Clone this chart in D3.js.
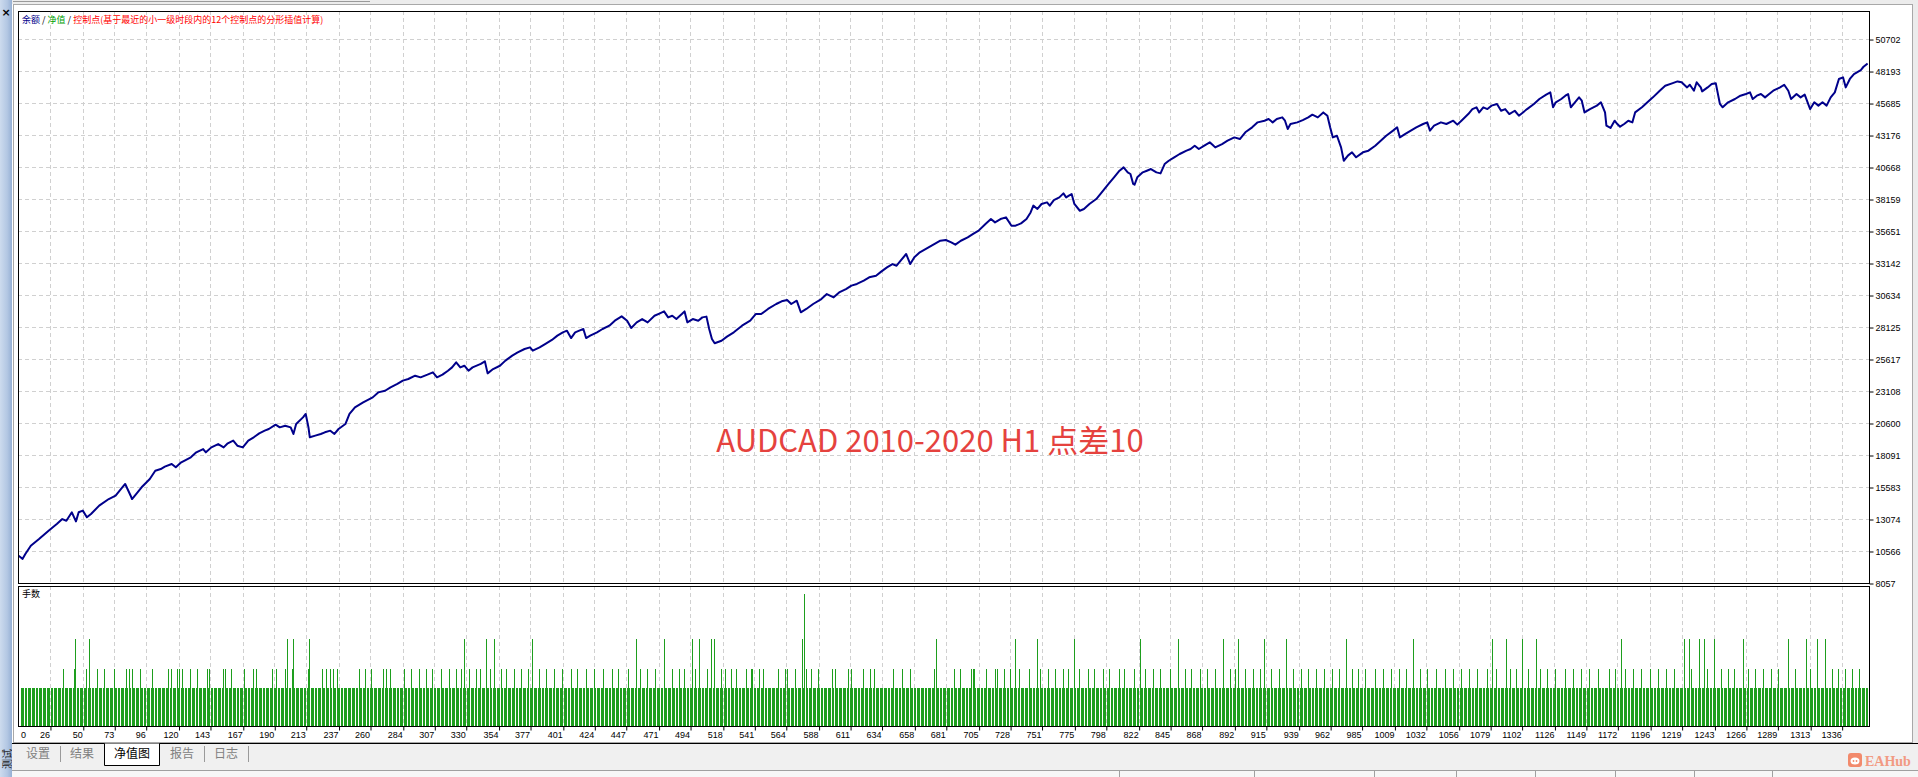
<!DOCTYPE html>
<html><head><meta charset="utf-8">
<script src="https://cdn.jsdelivr.net/npm/d3@7/dist/d3.min.js"></script>
<style>
html,body{margin:0;padding:0;background:#fff;overflow:hidden}
svg{display:block}
</style></head>
<body><svg id="c" width="1918" height="777"></svg>
<script>
// ---------------- data ----------------
const tradeCount = 1356;
const balancePoints = [
[0,10250],[3,10200],[6,9950],[8,10330],[12,10980],[18,11510],[25,12160],[31,12680],[35,13070],[38,12940],[42,13600],[45,12890],[47,13600],[50,13730],[53,13210],[56,13470],[62,14120],[69,14640],[74,14900],[78,15430],[81,15820],[85,14900],[86,14640],[89,15030],[93,15560],[99,16210],[103,16860],[107,16990],[110,17180],[115,17390],[118,17130],[122,17520],[129,17910],[133,18300],[138,18560],[140,18300],[144,18690],[149,18950],[153,18690],[156,19010],[160,19220],[163,18820],[167,18690],[171,19220],[175,19480],[179,19790],[183,20000],[186,20130],[191,20470],[194,20260],[198,20390],[202,20260],[204,19740],[206,20520],[211,21040],[213,21310],[215,20260],[216,19480],[220,19610],[224,19740],[227,19870],[231,20000],[234,19740],[237,20130],[242,20520],[245,21310],[249,21830],[255,22220],[262,22610],[266,23000],[271,23130],[275,23400],[280,23660],[284,23920],[288,24050],[293,24310],[297,24180],[302,24390],[306,24570],[309,24180],[313,24390],[317,24700],[320,24960],[323,25360],[326,24960],[329,25090],[332,24700],[335,24960],[341,25230],[344,25430],[346,24490],[350,24830],[355,25090],[359,25490],[364,25880],[368,26140],[373,26400],[377,26530],[379,26270],[384,26530],[388,26790],[393,27110],[397,27450],[401,27710],[404,27840],[407,27260],[410,27710],[413,27840],[416,27970],[418,27260],[421,27450],[426,27710],[430,27970],[435,28230],[439,28620],[444,28960],[448,28620],[451,28050],[455,28490],[459,28750],[463,28490],[468,29010],[472,29200],[475,29350],[478,28880],[481,29010],[484,28750],[488,29140],[490,29350],[492,28490],[496,28750],[500,28620],[503,28880],[506,28940],[508,27970],[510,27190],[512,26850],[517,27050],[521,27370],[526,27710],[532,28230],[538,28620],[542,29140],[546,29140],[551,29540],[557,29930],[561,30140],[565,30240],[568,29930],[572,30190],[575,29280],[579,29540],[584,29930],[590,30320],[594,30710],[599,30450],[603,30840],[608,31100],[612,31370],[616,31500],[621,31760],[625,32020],[630,32150],[634,32490],[638,32800],[642,33060],[645,32930],[648,33330],[652,33850],[655,33060],[658,33590],[662,33980],
[677,34890],[681,34950],[685,34760],[688,34580],[692,34890],[697,35150],[701,35420],[705,35680],[710,36200],[714,36590],[717,36330],[721,36590],[725,36720],[729,36070],[732,36070],[736,36250],[740,36590],[743,37110],[745,37640],[748,37380],[751,37770],[755,37900],[757,37640],[760,38080],[764,38290],[767,38600],[769,38290],[771,38420],[773,38550],[775,37770],[779,37240],[782,37380],[786,37770],[791,38160],[795,38680],[800,39340],[804,39860],[808,40380],[811,40640],[814,40250],[816,40120],[818,39340],[819,39280],[821,39860],[825,40250],[828,40380],[831,40510],[835,40250],[838,40170],[841,40900],[844,41160],[848,41430],[852,41690],[857,41950],[860,42080],[863,42340],[866,42080],[870,42340],[874,42600],[876,42420],[878,42210],[883,42470],[887,42730],[892,42990],[896,42860],[900,43390],[905,43780],[909,44170],[914,44300],[917,44430],[920,44170],[923,44430],[927,44560],[929,44300],[931,43650],[933,44040],[938,44170],[942,44350],[946,44560],[949,44770],[953,44560],[957,44950],[960,44690],[962,43780],[964,42990],[967,43120],[970,42210],[972,41160],[975,41560],[978,41820],[981,41430],[986,41820],[990,41950],[995,42340],[999,42730],[1003,43120],[1008,43520],[1011,43780],[1013,42990],[1017,43260],[1021,43520],[1025,43780],[1030,44040],[1033,44170],[1035,43520],[1038,43910],[1043,44170],[1047,44040],[1052,44300],[1055,43990],[1058,44300],[1063,44820],[1066,45210],[1069,45350],[1071,44950],[1074,45350],[1077,45210],[1080,45480],[1084,45610],[1087,45080],[1090,45210],[1093,44820],[1097,45080],[1100,44690],[1103,44950],[1106,45210],[1111,45610],[1115,46000],[1120,46340],[1123,46520],[1125,45350],[1127,45740],[1131,46000],[1134,46260],[1136,46390],[1138,45350],[1141,45740],[1144,46130],[1146,45870],[1148,44950],[1152,45210],[1157,45480],[1160,45740],[1163,44950],[1164,43910],[1167,43730],[1170,44300],[1172,44040],[1174,43830],[1177,44040],[1180,44300],[1183,44170],[1185,44950],[1190,45350],[1194,45740],[1198,46130],[1203,46650],[1207,47040],[1212,47230],[1216,47380],[1219,47310],[1223,46910],[1225,47120],[1228,46650],[1230,47310],[1233,46910],[1234,46600],[1238,46910],[1241,47170],[1244,47230],[1247,45610],[1249,45350],[1253,45740],[1258,46000],[1262,46260],[1266,46390],[1269,46520],[1271,46000],[1274,46260],[1277,46390],[1280,46130],[1283,46390],[1286,46650],[1291,46910],[1294,47120],[1297,46650],[1299,46000],[1303,46390],[1306,46130],[1309,46340],[1312,45480],[1313,45210],[1316,45740],[1319,45480],[1322,45740],[1325,45480],[1328,46130],[1331,46520],[1334,47570],[1337,47700],[1339,46910],[1342,47570],[1345,47960],[1350,48270],[1352,48530],[1355,48790]
];
const yTickValues = [8057,10566,13074,15583,18091,20600,23108,25617,28125,30634,33142,35651,38159,40668,43176,45685,48193,50702];
const yMax = 52900;
const xTickValues = [0,26,50,73,96,120,143,167,190,213,237,260,284,307,330,354,377,401,424,447,471,494,518,541,564,588,611,634,658,681,705,728,751,775,798,822,845,868,892,915,939,962,985,1009,1032,1056,1079,1102,1126,1149,1172,1196,1219,1243,1266,1289,1313,1336];
const baseLot = 0.10;
const lotMax = 0.37;
// trades whose lot size differs from the base lot
const lots015 = [36,44,53,61,66,73,82,84,86,92,101,113,115,119,121,123,129,134,141,143,153,154,159,168,175,177,189,192,198,203,215,225,228,231,233,236,252,257,261,270,272,275,
 285,290,296,301,306,312,318,323,327,333,338,341,348,356,360,366,371,376,384,389,395,401,407,412,418,424,431,437,442,449,458,463,469,481,486,490,498,
 507,517,520,524,528,535,539,540,545,548,559,564,565,571,579,583,588,598,600,610,612,621,626,629,643,649,655,673,687,692,700,701,702,711,717,719,
 724,728,735,742,750,756,761,767,771,779,785,790,796,801,808,812,819,827,833,838,845,856,861,867,872,878,889,893,900,906,911,919,925,935,941,946,952,958,964,969,978,983,988,995,
 1001,1007,1013,1018,1028,1033,1040,1046,1052,1058,1064,1070,1077,1084,1094,1098,1107,1116,1121,1127,1134,1140,1146,1152,1158,1166,1171,1178,1184,1190,1196,1202,1208,1214,1226,1238,1248,1253,1258,1268,1273,1279,1285,1290,1302,1313,1329,1334,1339,1344,1349];
const lots023 = [45,55,200,204,216,329,345,351,379,455,475,496,501,510,512,576,674,
 732,748,775,823,851,884,895,914,930,974,1023,1081,1091,1103,1113,1175,1221,1225,1232,1236,1243,1264,1297,1310,1318,1324];
const lots035 = [578];
const legendItems = ["余额"," / ","净值"," / ","控制点(基于最近的小一级时段内的12个控制点的分形插值计算)"];
const legendColors = ["#00008b","#000000","#00a000","#000000","#ff0000"];
const subTitle = "手数";
const tabLabels = ["设置","结果","净值图","报告","日志"];
const activeTab = "净值图";
const watermark = "AUDCAD 2010-2020 H1 点差10";
const sideLabel = "测试";

// ---------------- layout ----------------
const svg = d3.select("#c");
const L = 18, R = 1869, T = 11, B = 583, VT = 586, VB = 726;
const x = d3.scaleLinear().domain([0, tradeCount]).range([14.4, R]);
const y = d3.scaleLinear().domain([yTickValues[0], yMax]).range([B, T]);
const vy = d3.scaleLinear().domain([0, lotMax]).range([VB, VT]);

const defs = svg.append("defs");
const lg = defs.append("linearGradient").attr("id","lb").attr("x1",0).attr("x2",1).attr("y1",0).attr("y2",0);
lg.append("stop").attr("offset",0).attr("stop-color","#cddbee");
lg.append("stop").attr("offset",0.6).attr("stop-color","#b3c7e3");
lg.append("stop").attr("offset",1).attr("stop-color","#96b0d4");
defs.append("clipPath").attr("id","mc").append("rect").attr("x",L+1).attr("y",T+1).attr("width",R-L-2).attr("height",B-T-2);
defs.append("clipPath").attr("id","vc").append("rect").attr("x",L+2).attr("y",VT+1).attr("width",R-L-3).attr("height",VB-VT-1);

svg.append("rect").attr("width",1918).attr("height",777).attr("fill","#ffffff");
// top strip
svg.append("rect").attr("x",0).attr("y",0).attr("width",1918).attr("height",4).attr("fill","#ececec");
svg.append("line").attr("x1",13).attr("x2",370).attr("y1",1.5).attr("y2",1.5).attr("stroke","#9a9a9a");
// left blue strip
svg.append("rect").attr("x",0).attr("y",0).attr("width",12).attr("height",777).attr("fill","url(#lb)");
svg.append("text").attr("x",6).attr("y",16).attr("text-anchor","middle").attr("font-family","DejaVu Sans").attr("font-weight","bold").attr("font-size",11).text("×");
svg.append("text").attr("transform","translate(11,769) rotate(-90)").attr("font-family","Noto Sans CJK SC").attr("font-size",10).attr("fill","#222").text(sideLabel);
// outer frame
svg.append("rect").attr("x",13.5).attr("y",4.5).attr("width",1899).attr("height",738).attr("fill","none").attr("stroke","#a8a8a8");
svg.append("rect").attr("x",1913).attr("y",0).attr("width",5).attr("height",743).attr("fill","#ececec");

// grid
const grid = svg.append("g").attr("stroke","#d0d0d0").attr("stroke-dasharray","4,3").attr("shape-rendering","crispEdges").attr("fill","none");
const xg = xTickValues.filter(v => x(v) > L + 2);
grid.selectAll("line.vx").data(xg).join("line").attr("class","vx")
  .attr("x1",d=>Math.round(x(d))+0.5).attr("x2",d=>Math.round(x(d))+0.5).attr("y1",T).attr("y2",B);
grid.selectAll("line.vv").data(xg).join("line").attr("class","vv")
  .attr("x1",d=>Math.round(x(d))+0.5).attr("x2",d=>Math.round(x(d))+0.5).attr("y1",VT).attr("y2",VB);
grid.selectAll("line.hy").data(yTickValues.slice(1)).join("line").attr("class","hy")
  .attr("x1",L).attr("x2",R).attr("y1",d=>Math.round(y(d))+0.5).attr("y2",d=>Math.round(y(d))+0.5);

// volume bars
const lotMap = new Map();
lots015.forEach(t => lotMap.set(t, 0.15));
lots023.forEach(t => lotMap.set(t, 0.23));
lots035.forEach(t => lotMap.set(t, 0.35));
const trades = d3.range(0, tradeCount).map(t => ({t, lot: lotMap.has(t) ? lotMap.get(t) : baseLot}));
svg.append("g").attr("clip-path","url(#vc)").attr("shape-rendering","crispEdges")
  .selectAll("rect").data(trades).join("rect")
  .attr("x", d => Math.floor(x(d.t)))
  .attr("width", 1)
  .attr("y", d => Math.round(vy(d.lot)))
  .attr("height", d => VB - Math.round(vy(d.lot)))
  .attr("fill", "#1e9e1e");

// balance line
const line = d3.line().x(d => x(d[0])).y(d => y(d[1]));
svg.append("path").datum(balancePoints).attr("clip-path","url(#mc)")
  .attr("d", line).attr("fill","none").attr("stroke","#00008b").attr("stroke-width",2).attr("stroke-linejoin","round");

// frames
svg.append("rect").attr("x",L+0.5).attr("y",T+0.5).attr("width",R-L).attr("height",B-T).attr("fill","none").attr("stroke","#000");
svg.append("rect").attr("x",L+0.5).attr("y",VT+0.5).attr("width",R-L).attr("height",VB-VT).attr("fill","none").attr("stroke","#000");

// y axis
const yAxis = d3.axisRight(y).tickValues(yTickValues).tickSize(4).tickPadding(2).tickFormat(d3.format("d"));
const ya = svg.append("g").attr("transform",`translate(${R+0.5},0.5)`).call(yAxis);
ya.select(".domain").remove();
ya.selectAll("text").attr("font-family","Liberation Sans").attr("font-size",9).attr("fill","#000");
ya.selectAll("line").attr("stroke","#000");

// x axis
const xAxis = d3.axisBottom(x).tickValues(xTickValues).tickSize(4).tickPadding(1).tickFormat(d3.format("d"));
const xa = svg.append("g").attr("transform",`translate(0.5,${VB+0.5})`).call(xAxis);
xa.select(".domain").remove();
xa.selectAll("text").attr("font-family","Liberation Sans").attr("font-size",9).attr("fill","#000")
  .attr("text-anchor", d => x(d) < L + 2 ? "start" : "end")
  .attr("x", d => x(d) < L + 2 ? (L + 2 - x(d)) : -1);
xa.selectAll("line").attr("stroke","#000").attr("display", d => x(d) < L + 2 ? "none" : null);

// legend
const lt = svg.append("text").attr("x",22).attr("y",23).attr("font-family","Noto Sans CJK SC").attr("font-size",9);
lt.selectAll("tspan").data(legendItems).join("tspan").attr("fill",(d,i)=>legendColors[i]).text(d=>d);
svg.append("text").attr("x",22).attr("y",597).attr("font-family","Noto Sans CJK SC").attr("font-size",9).attr("fill","#000").text(subTitle);

// watermark
svg.append("text").attr("x",930).attr("y",452).attr("text-anchor","middle").attr("font-family","Noto Sans CJK SC").attr("font-size",31).attr("fill","#e5423e").text(watermark);

// bottom tab bar
const bar = svg.append("g");
bar.append("rect").attr("x",12).attr("y",743).attr("width",1906).attr("height",34).attr("fill","#f0f0f0");
bar.append("line").attr("x1",12).attr("x2",1918).attr("y1",743.5).attr("y2",743.5).attr("stroke","#000");
bar.append("line").attr("x1",12).attr("x2",1918).attr("y1",770.5).attr("y2",770.5).attr("stroke","#a0a0a0");
bar.append("rect").attr("x",12).attr("y",771).attr("width",1906).attr("height",6).attr("fill","#f7f7f7");
const tabCenters = [38, 82, 132, 182, 226];
bar.append("path").attr("d","M104.5,743.5 V765.5 H159.5 V743.5").attr("fill","#fff").attr("stroke","#000");
[60, 204, 248].forEach(px => bar.append("line").attr("x1",px+0.5).attr("x2",px+0.5).attr("y1",746).attr("y2",762).attr("stroke","#9a9a9a"));
bar.selectAll("text.tab").data(tabLabels).join("text").attr("class","tab")
  .attr("x",(d,i)=>tabCenters[i]).attr("y",758).attr("text-anchor","middle")
  .attr("font-family","Noto Sans CJK SC").attr("font-size",12)
  .attr("fill", d => d === activeTab ? "#000" : "#808080").text(d=>d);
[1119,1254,1374,1456,1535,1615,1694,1772].forEach(px => bar.append("line").attr("x1",px+0.5).attr("x2",px+0.5).attr("y1",771).attr("y2",777).attr("stroke","#a0a0a0"));

// EAHub mark
const mk = svg.append("g").attr("transform","translate(1848,753)");
mk.append("rect").attr("width",14).attr("height",14).attr("rx",3).attr("fill","#f28a6c");
mk.append("ellipse").attr("cx",7).attr("cy",8).attr("rx",4.5).attr("ry",3.5).attr("fill","#fff");
mk.append("circle").attr("cx",5.5).attr("cy",8).attr("r",0.9).attr("fill","#f28a6c");
mk.append("circle").attr("cx",8.5).attr("cy",8).attr("r",0.9).attr("fill","#f28a6c");
svg.append("text").attr("x",1865).attr("y",766).attr("font-family","Liberation Serif").attr("font-weight","bold").attr("font-size",14).attr("fill","#f29a82").text("EAHub");
</script>
</body></html>
